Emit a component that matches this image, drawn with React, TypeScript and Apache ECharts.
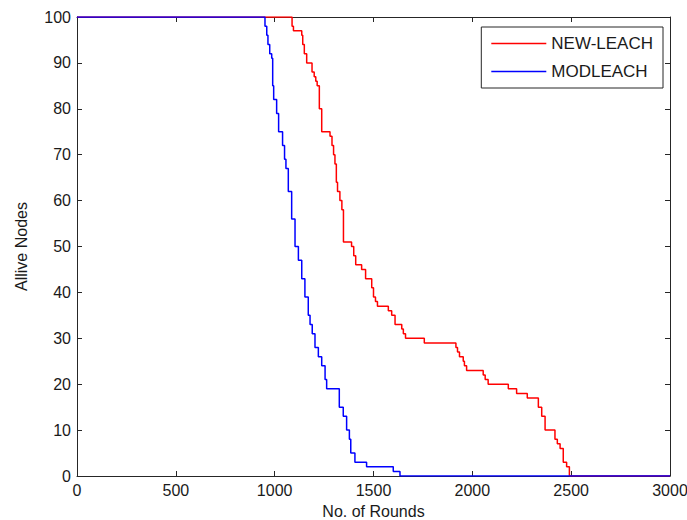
import React, { useEffect, useRef } from "react";
import * as echarts from "echarts";

// NEW-LEACH: rounds at which the alive count changes, and the alive count after it
const newLeachRounds = [0, 1088, 1095, 1137, 1142, 1150, 1162, 1189, 1200, 1208, 1215, 1226, 1238, 1280, 1290, 1298, 1305, 1312, 1318, 1330, 1340, 1348, 1389, 1400, 1410, 1440, 1460, 1491, 1500, 1510, 1520, 1575, 1592, 1609, 1643, 1651, 1662, 1757, 1917, 1925, 1935, 1954, 1960, 1971, 2055, 2065, 2080, 2182, 2224, 2278, 2334, 2351, 2368, 2418, 2430, 2444, 2460, 2477, 2491, 3000];
const newLeachAlive = [100, 98, 97, 96, 94, 92, 90, 88, 87, 86, 85, 80, 75, 74, 72, 70, 68, 64, 62, 60, 58, 51, 50, 48, 46, 45, 43, 41, 39, 38, 37, 36, 35, 33, 32, 31, 30, 29, 28, 27, 26, 25, 24, 23, 22, 21, 20, 19, 18, 17, 15, 13, 10, 8, 7, 6, 3, 2, 0, 0];

// MODLEACH
const modLeachRounds = [0, 951, 960, 966, 975, 985, 990, 995, 1010, 1020, 1040, 1050, 1057, 1069, 1086, 1103, 1120, 1137, 1153, 1170, 1179, 1190, 1204, 1221, 1238, 1255, 1263, 1327, 1347, 1364, 1378, 1385, 1406, 1465, 1600, 1634, 3000];
const modLeachAlive = [100, 98, 96, 94, 92, 91, 85, 82, 79, 75, 72, 69, 67, 62, 56, 50, 47, 43, 39, 35, 33, 31, 28, 26, 24, 21, 19, 15, 13, 10, 8, 5, 3, 2, 1, 0, 0];

const seriesNames = ["NEW-LEACH", "MODLEACH"];
const seriesColors = ["#ff0000", "#0000ff"];
const xTicks = { min: 0, max: 3000, interval: 500 };
const yTicks = { min: 0, max: 100, interval: 10 };

const FONT = "Liberation Sans, Arial, sans-serif";
const TEXT = "#1a1a1a";
const AXIS = "#262626";
const LEGEND_ICON = "path://M0 0H55V1.5H0Z";

export default function App() {
  const ref = useRef<HTMLDivElement>(null);
  useEffect(() => {
    if (!ref.current) return;
    const chart = echarts.init(ref.current, undefined, { renderer: "svg" });
    const axisCommon = {
      type: "value" as const,
      splitLine: { show: false },
      axisLine: { show: true, onZero: false, lineStyle: { color: AXIS, width: 1 } },
      axisTick: { show: true, inside: true, length: 5, lineStyle: { color: AXIS } },
    };
    const fmt = (v: number) => String(v);
    chart.setOption({
      animation: false,
      backgroundColor: "#ffffff",
      grid: { left: 77, right: 17, top: 17, bottom: 44, containLabel: false, outerBoundsMode: "none" },
      legend: {
        orient: "vertical",
        right: 24,
        top: 27,
        data: seriesNames.map((n) => ({ name: n, icon: LEGEND_ICON })),
        itemWidth: 55,
        itemHeight: 14,
        itemGap: 11,
        padding: [8, 10, 8, 10],
        borderColor: AXIS,
        borderWidth: 1,
        backgroundColor: "#ffffff",
        textStyle: { fontFamily: FONT, fontSize: 17, color: TEXT },
      },
      xAxis: [
        {
          ...axisCommon,
          ...xTicks,
          position: "bottom",
          name: "No. of Rounds",
          nameLocation: "middle",
          nameGap: 27,
          nameTextStyle: { fontFamily: FONT, fontSize: 16, color: TEXT },
          axisLabel: { fontFamily: FONT, fontSize: 16, color: TEXT, margin: 6, formatter: fmt },
        },
        {
          ...axisCommon,
          ...xTicks,
          position: "top",
          axisLabel: { show: false },
        },
      ],
      yAxis: [
        {
          ...axisCommon,
          ...yTicks,
          position: "left",
          name: "Allive Nodes",
          nameLocation: "middle",
          nameGap: 48,
          nameTextStyle: { fontFamily: FONT, fontSize: 16, color: TEXT },
          axisLabel: { fontFamily: FONT, fontSize: 16, color: TEXT, margin: 6, formatter: fmt },
        },
        {
          ...axisCommon,
          ...yTicks,
          position: "right",
          axisLabel: { show: false },
        },
      ],
      series: [
        {
          name: seriesNames[0],
          type: "line",
          step: "end",
          symbol: "none",
          xAxisIndex: 0,
          yAxisIndex: 0,
          color: seriesColors[0],
          itemStyle: { color: seriesColors[0] },
          lineStyle: { color: seriesColors[0], width: 1.5 },
          data: newLeachRounds.map((r, i) => [r, newLeachAlive[i]]),
        },
        {
          name: seriesNames[1],
          type: "line",
          step: "end",
          symbol: "none",
          xAxisIndex: 0,
          yAxisIndex: 0,
          color: seriesColors[1],
          itemStyle: { color: seriesColors[1] },
          lineStyle: { color: seriesColors[1], width: 1.5 },
          data: modLeachRounds.map((r, i) => [r, modLeachAlive[i]]),
        },
      ],
    });
    return () => chart.dispose();
  }, []);
  return <div ref={ref} style={{ width: 687, height: 520, position: "absolute", left: 0, top: 0 }} />;
}
